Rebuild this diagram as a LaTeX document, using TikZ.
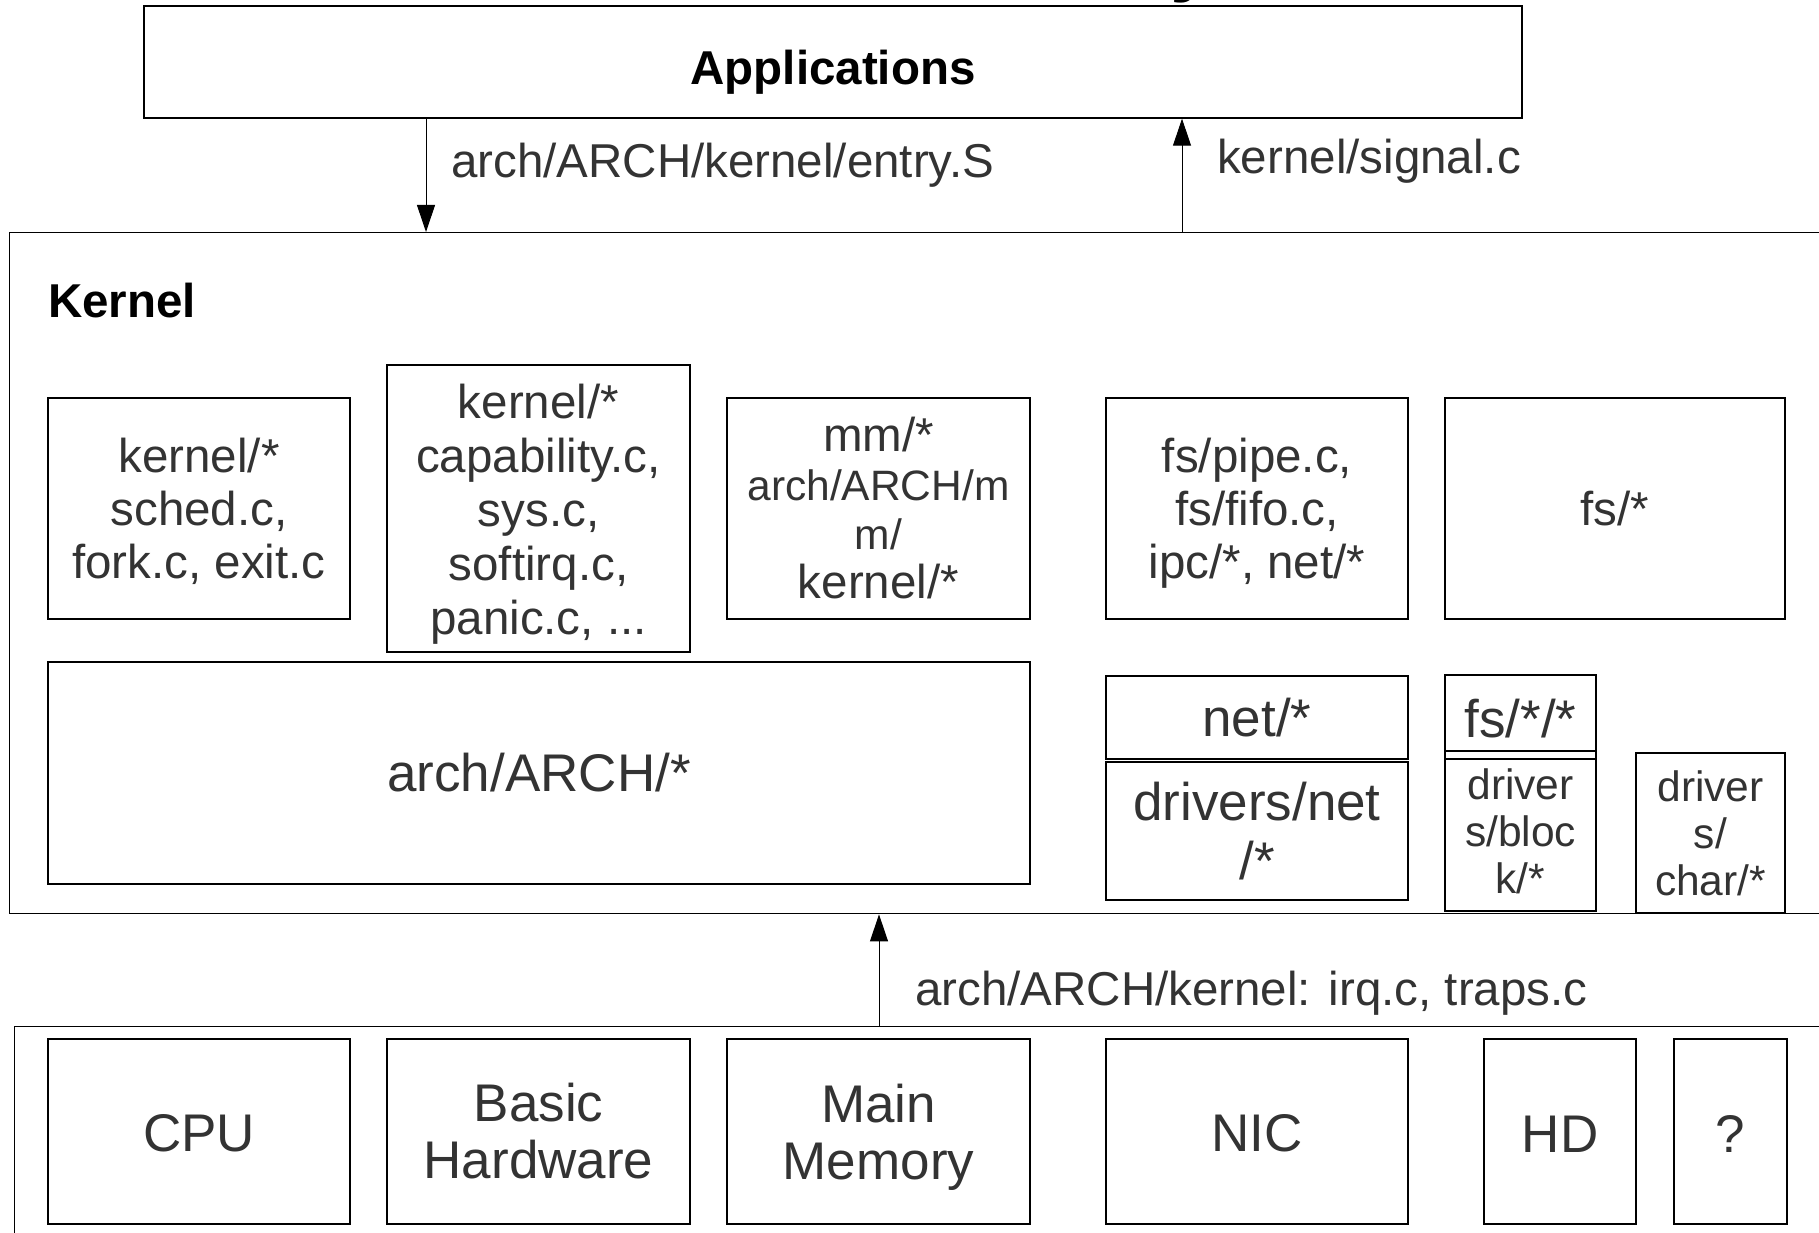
\documentclass[tikz,border=0pt]{standalone}
\usepackage{fontspec}
\setmainfont{Liberation Sans}
\usetikzlibrary{arrows.meta}
\definecolor{txt}{HTML}{333333}
\newcommand\fszA{\fontsize{47.5}{53}\selectfont}
\newcommand\fszB{\fontsize{53}{57}\selectfont}
\newcommand\fszC{\fontsize{42.5}{47}\selectfont}
\newcommand\tallstrut[1]{\rule{0pt}{#1}}
\newcommand\deepstrut[1]{\rule[-#1]{0pt}{0pt}}
\begin{document}
\begin{tikzpicture}[x=1pt,y=-1pt,
  box/.style={draw=black, line width=1.4pt, inner sep=0pt, align=center, text=txt, font=\fszA},
  bigtxt/.style={font=\fszB},
  smalltxt/.style={font=\fszC},
  lbl/.style={inner sep=0pt, text=txt, font=\fszA, anchor=base west},
  arr/.style={draw=black, line width=1pt, -{Triangle[length=27pt,width=18pt]}}
]
\useasboundingbox (0,0) rectangle (1819,1233);
\clip (0,0) rectangle (1819,1233);
\fill[white] (0,0) rectangle (1819,1233);

% cut-off title fragment
\node[inner sep=0pt, anchor=base west, font=\bfseries\fontsize{80}{80}\selectfont] (ttl) at (1170,-13) {y};

% Applications
\node[box, minimum width=1378pt, minimum height=112pt, text=black, font=\bfseries\fszA] (app) at (833,62) {\tallstrut{55.6pt}Applications};

% Kernel outer
\node[box, anchor=north west, minimum width=1830pt, minimum height=681pt] (kernel) at (9,232) {};
\node[inner sep=0pt, anchor=base west, font=\bfseries\fszA] (klbl) at (48,317) {Kernel};

% Kernel sub-boxes, top row
\node[box, minimum width=302pt, minimum height=221pt] (b1) at (199,508.5) {\tallstrut{40.6pt}kernel/*\\sched.c,\\fork.c, exit.c};
\node[box, minimum width=303pt, minimum height=287pt, font=\fontsize{47.5}{54}\selectfont] (b2) at (538.5,508.5) {\tallstrut{45.6pt}kernel/*\\capability.c,\\sys.c,\\softirq.c,\\panic.c, ...};
\node[box, minimum width=303pt, minimum height=221pt, font=\fontsize{47.5}{49}\selectfont] (b3) at (878.5,508.5) {mm/*\\{\fszC arch/ARCH/m}\\{\fszC m/}\\kernel/*};
\node[box, minimum width=302pt, minimum height=221pt] (b4) at (1257,508.5) {\tallstrut{44.6pt}fs/pipe.c,\\fs/fifo.c,\\ipc/*, net/*};
\node[box, minimum width=340pt, minimum height=221pt] (b5) at (1615,508.5) {fs/*};

% Kernel sub-boxes, lower row
\node[box, bigtxt, minimum width=982pt, minimum height=222pt] (arch) at (539,773) {arch/ARCH/*};
\node[box, bigtxt, minimum width=302pt, minimum height=83pt] (net) at (1257,717.5) {net/*};
\node[box, font=\fontsize{53}{58.5}\selectfont, minimum width=302pt, minimum height=138pt] (drvnet) at (1257,831) {drivers/net\\/*};
\node[box, bigtxt, minimum width=151pt, minimum height=76pt] (fsff) at (1520.5,713) {\tallstrut{48.6pt}fs/*/*};
\node[box, minimum width=151pt, minimum height=8pt] (strip) at (1520.5,755) {};
\node[box, smalltxt, minimum width=151pt, minimum height=152pt] (drvblk) at (1520.5,835) {driver\\s/bloc\\k/*\deepstrut{8.6pt}};
\node[box, smalltxt, minimum width=149pt, minimum height=160pt] (drvchr) at (1710.5,833) {driver\\s/\\char/*};

% Hardware outer
\node[box, anchor=north west, minimum width=1830pt, minimum height=230pt] (hw) at (14,1026) {};
\node[box, bigtxt, minimum width=302pt, minimum height=185pt] (cpu) at (199,1131.5) {\tallstrut{41pt}CPU};
\node[box, bigtxt, minimum width=303pt, minimum height=185pt] (basic) at (538.5,1131.5) {Basic\\Hardware};
\node[box, bigtxt, minimum width=303pt, minimum height=185pt] (mem) at (878.5,1131.5) {\tallstrut{49.9pt}Main\\Memory};
\node[box, bigtxt, minimum width=302pt, minimum height=185pt] (nic) at (1257,1131.5) {\tallstrut{41pt}NIC};
\node[box, bigtxt, minimum width=152pt, minimum height=185pt] (hd) at (1560,1131.5) {\tallstrut{41pt}HD};
\node[box, bigtxt, minimum width=113pt, minimum height=185pt] (q) at (1730.5,1131.5) {\tallstrut{41pt}?};

% connectors
\coordinate (xa) at (426,0);
\coordinate (xb) at (1182,0);
\coordinate (xc) at (879,0);
\draw[arr] (xa |- app.south) -- (xa |- kernel.north);
\draw[arr] (xb |- kernel.north) -- (xb |- app.south);
\draw[arr] (xc |- hw.north) -- (xc |- kernel.south);

% connector labels
\node[lbl] (l1) at (451,178) {arch/ARCH/kernel/entry.S};
\node[lbl] (l2) at (1217,174) {kernel/signal.c};
\node[lbl] (l3) at (915,1005) {arch/ARCH/kernel: irq.c, traps.c};
\end{tikzpicture}
\end{document}
